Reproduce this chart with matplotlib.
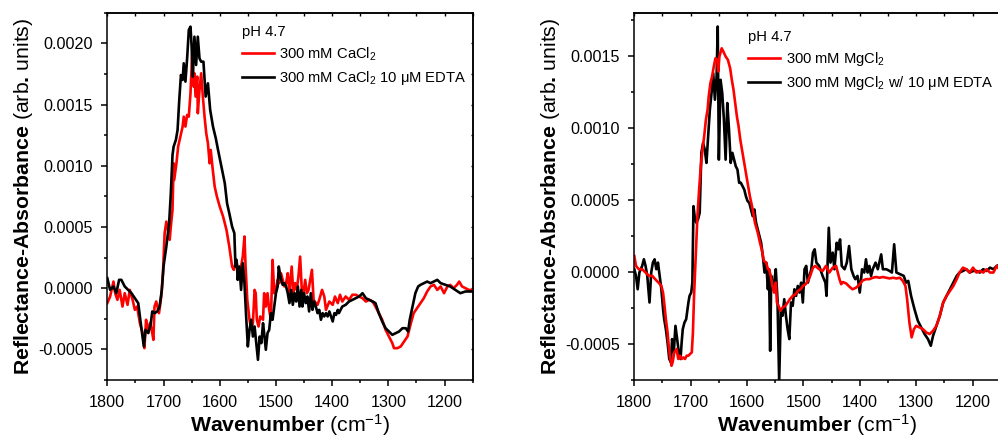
import matplotlib
matplotlib.use("Agg")
import numpy as np
import matplotlib.pyplot as plt
from matplotlib.ticker import MultipleLocator, FuncFormatter

plt.rcParams['font.family'] = ['Liberation Sans', 'DejaVu Sans']
plt.rcParams['mathtext.fontset'] = 'custom'
plt.rcParams['mathtext.rm'] = 'Liberation Sans'
plt.rcParams['mathtext.it'] = 'Liberation Sans:italic'
plt.rcParams['mathtext.bf'] = 'Liberation Sans:bold'
plt.rcParams['mathtext.default'] = 'regular'

# ---------------- spectra (wavenumber in cm^-1, absorbance in units of 1e-4) ----------------
# CaCl2, no EDTA
ca_wn = np.array([
    1800, 1795, 1789, 1786, 1782, 1778, 1773, 1769, 1764, 1760,
    1755, 1751, 1747, 1742, 1737, 1734, 1731, 1729, 1724, 1721,
    1718, 1716, 1713, 1708, 1704, 1701, 1698, 1695, 1692, 1689,
    1687, 1684, 1682, 1681, 1677, 1674, 1670, 1666, 1664, 1661,
    1658, 1655, 1652, 1651, 1649, 1646, 1645, 1643, 1640, 1639,
    1636, 1633, 1630, 1627, 1624, 1621, 1618, 1616, 1613, 1609,
    1605, 1600, 1594, 1588, 1583, 1578, 1575, 1572, 1570, 1566,
    1563, 1559, 1556, 1554, 1551, 1547, 1544, 1541, 1538, 1536,
    1534, 1531, 1528, 1523, 1521, 1518, 1515, 1512, 1509, 1506,
    1503, 1500, 1497, 1494, 1491, 1488, 1485, 1482, 1479, 1476,
    1472, 1469, 1466, 1463, 1460, 1457, 1454, 1451, 1448, 1445,
    1442, 1439, 1436, 1433, 1429, 1426, 1423, 1418, 1414, 1411,
    1405, 1399, 1395, 1390, 1386, 1382, 1376, 1370, 1364, 1358,
    1352, 1346, 1340, 1334, 1328, 1323, 1317, 1311, 1305, 1299,
    1293, 1290, 1284, 1278, 1272, 1266, 1260, 1255, 1249, 1243,
    1237, 1231, 1225, 1219, 1213, 1207, 1201, 1195, 1190, 1184,
    1178, 1174, 1169, 1163, 1157, 1150])
ca_abs = np.array([
    -1.22, -0.68, 0.54, -0.41, -0.95, -0.14, -1.50, -0.41, -1.36, -0.14,
    -0.95, -1.77, -1.50, -2.86, -3.67, -4.90, -2.58, -3.40, -2.86, -3.40,
    -4.22, -1.50, -1.09, -2.04, -0.68, 1.22, 4.49, 5.44, 4.76, 3.95,
    5.03, 6.39, 10.20, 8.84, 10.20, 11.56, 12.38, 13.20, 14.01, 13.20,
    14.15, 14.01, 15.92, 17.01, 19.18, 16.46, 17.55, 15.65, 17.28, 14.29,
    16.19, 17.55, 15.65, 14.01, 12.65, 11.84, 10.20, 11.29, 9.93, 8.30,
    7.48, 6.67, 5.85, 4.76, 3.40, 1.77, 1.50, 2.04, 2.18, 0.95,
    1.50, 2.58, 4.22, 1.77, -0.95, -2.58, -3.40, -2.86, -0.14, -0.41,
    -2.58, -3.13, -2.31, -2.58, -0.41, -1.50, -0.41, -1.77, -2.58, 2.31,
    -0.41, -0.14, 0.68, 0.41, 1.22, 0.68, 0.14, 0.41, 1.22, -0.41,
    1.77, -0.41, 0.41, -0.14, 0.95, 2.58, -0.14, -0.41, 0.68, -0.41,
    -0.14, 0.68, 1.50, -0.95, -1.22, -1.36, -0.95, -0.14, -0.68, -1.77,
    -1.09, -1.36, -0.68, -1.22, -0.54, -1.09, -0.68, -0.95, -0.54, -0.54,
    -0.68, -0.82, -1.09, -0.95, -1.09, -1.50, -2.04, -2.58, -3.40, -3.95,
    -4.49, -4.90, -4.90, -4.76, -4.35, -3.95, -2.86, -2.04, -1.63, -1.22,
    -0.82, -0.27, 0.14, 0.27, -0.14, 0.14, -0.41, 0.14, 0.27, 0.00,
    0.27, 0.54, 0.14, 0.00, -0.14, -0.14])

# CaCl2 with 10 uM EDTA
ca_edta_wn = np.array([
    1800, 1795, 1789, 1784, 1779, 1775, 1769, 1763, 1757, 1751,
    1745, 1739, 1735, 1732, 1727, 1723, 1720, 1716, 1711, 1707,
    1703, 1700, 1695, 1690, 1687, 1684, 1682, 1678, 1675, 1672,
    1669, 1666, 1664, 1661, 1658, 1655, 1652, 1650, 1648, 1645,
    1642, 1639, 1636, 1633, 1629, 1625, 1621, 1617, 1612, 1607,
    1603, 1597, 1591, 1587, 1583, 1578, 1574, 1572, 1570, 1568,
    1565, 1562, 1559, 1556, 1553, 1550, 1547, 1544, 1541, 1538,
    1535, 1532, 1529, 1526, 1523, 1521, 1518, 1515, 1512, 1509,
    1506, 1503, 1500, 1497, 1495, 1492, 1488, 1485, 1482, 1479,
    1476, 1473, 1470, 1467, 1464, 1461, 1458, 1455, 1453, 1450,
    1447, 1444, 1441, 1438, 1435, 1432, 1429, 1426, 1423, 1420,
    1417, 1414, 1411, 1408, 1405, 1402, 1399, 1396, 1393, 1390,
    1388, 1382, 1376, 1370, 1364, 1358, 1352, 1346, 1340, 1334,
    1328, 1323, 1317, 1311, 1305, 1299, 1293, 1287, 1281, 1275,
    1269, 1265, 1262, 1257, 1252, 1247, 1243, 1237, 1231, 1225,
    1219, 1213, 1207, 1198, 1190, 1181, 1172, 1163, 1150])
ca_edta_abs = np.array([
    0.82, -0.14, 0.14, -0.41, 0.68, 0.68, 0.14, -0.14, -0.41, -0.82,
    -1.22, -3.40, -4.76, -3.40, -3.67, -2.99, -1.90, -2.04, -1.90, -1.50,
    -0.14, 1.77, 3.40, 5.31, 7.75, 10.88, 11.56, 12.11, 12.92, 15.37,
    17.41, 17.01, 18.37, 16.87, 18.77, 21.09, 21.36, 19.73, 17.28, 20.54,
    18.23, 20.54, 18.77, 18.50, 18.50, 15.65, 16.73, 14.56, 13.20, 12.24,
    11.29, 9.93, 8.57, 6.94, 6.12, 5.03, 4.49, 1.77, 2.31, 0.68,
    1.77, -0.14, 2.04, 0.41, -2.31, -4.76, -3.40, -2.58, -3.95, -3.13,
    -4.49, -5.85, -3.95, -4.49, -2.86, -3.67, -5.03, -3.67, -3.40, -2.04,
    -2.58, -1.50, -0.41, 0.14, 1.77, 0.95, 0.27, 0.41, 0.14, -0.41,
    -1.22, -0.14, -1.36, -0.41, -1.09, 0.14, -1.50, -0.14, -1.50, -0.41,
    -1.22, -0.68, -1.90, -0.41, -1.77, -1.09, -1.50, -2.04, -1.77, -2.58,
    -2.04, -2.31, -2.04, -2.31, -1.90, -2.31, -2.72, -2.04, -2.18, -1.77,
    -2.04, -1.50, -1.36, -1.09, -0.95, -0.82, -0.68, -0.41, -0.82, -0.95,
    -1.09, -1.22, -2.04, -2.72, -3.27, -3.54, -3.81, -3.67, -3.54, -3.27,
    -3.27, -3.54, -2.58, -1.50, -0.41, 0.14, 0.27, 0.41, 0.54, 0.41,
    0.54, 0.68, 0.41, 0.27, 0.14, -0.14, -0.41, -0.27, -0.27])

# MgCl2, no EDTA
mg_wn = np.array([
    1800, 1797, 1792, 1786, 1780, 1774, 1768, 1763, 1757, 1752,
    1749, 1747, 1744, 1741, 1739, 1737, 1734, 1732, 1729, 1725,
    1722, 1719, 1716, 1713, 1710, 1707, 1704, 1701, 1698, 1696,
    1694, 1691, 1688, 1685, 1682, 1679, 1676, 1673, 1670, 1668,
    1665, 1662, 1659, 1656, 1653, 1651, 1649, 1645, 1642, 1638,
    1634, 1630, 1627, 1624, 1621, 1618, 1615, 1612, 1608, 1603,
    1599, 1595, 1590, 1586, 1581, 1577, 1574, 1570, 1566, 1563,
    1561, 1558, 1555, 1552, 1549, 1547, 1544, 1541, 1537, 1532,
    1528, 1524, 1519, 1514, 1510, 1505, 1501, 1496, 1492, 1488,
    1483, 1479, 1472, 1466, 1460, 1454, 1448, 1442, 1436, 1433,
    1430, 1424, 1419, 1413, 1407, 1401, 1395, 1389, 1383, 1377,
    1371, 1365, 1359, 1353, 1347, 1341, 1335, 1329, 1324, 1319,
    1316, 1312, 1308, 1304, 1300, 1294, 1288, 1282, 1276, 1270,
    1264, 1258, 1252, 1246, 1240, 1234, 1228, 1223, 1217, 1211,
    1205, 1199, 1193, 1187, 1181, 1175, 1169, 1163, 1157, 1150])
mg_abs = np.array([
    1.11, 0.42, 0.19, 0.19, -0.04, -0.27, -0.27, -0.50, -0.74, -0.97,
    -1.43, -2.12, -3.28, -4.20, -5.12, -5.81, -6.51, -6.27, -5.58, -5.35,
    -6.04, -5.81, -6.04, -5.93, -6.04, -5.81, -5.81, -5.70, -5.58, -4.20,
    -1.66, 1.11, 3.88, 5.73, 7.34, 8.50, 9.42, 10.57, 11.26, 12.19,
    13.11, 13.57, 14.26, 14.84, 14.73, 13.92, 14.96, 15.53, 15.30, 14.96,
    14.73, 14.15, 13.34, 12.65, 11.73, 10.80, 10.11, 9.19, 8.27, 7.11,
    6.19, 5.26, 4.34, 3.42, 2.73, 2.03, 1.57, 0.76, 0.65, 0.19,
    0.19, -0.27, -0.97, -1.43, -0.74, -2.12, -2.35, -2.70, -2.47, -2.35,
    -2.12, -1.89, -1.66, -1.55, -1.32, -1.20, -0.97, -0.85, -0.62, -0.27,
    0.30, 0.42, 0.19, 0.07, 0.42, -0.04, 0.30, 0.42, -0.50, -0.85,
    -0.70, -0.80, -1.00, -1.20, -1.10, -0.90, -0.60, -0.50, -0.50, -0.40,
    -0.35, -0.40, -0.35, -0.40, -0.45, -0.40, -0.45, -0.40, -0.60, -0.97,
    -1.89, -3.50, -4.54, -3.97, -3.74, -3.85, -3.97, -4.20, -4.31, -4.08,
    -3.74, -3.04, -2.12, -1.66, -1.31, -0.97, -0.50, -0.04, 0.30, 0.19,
    -0.04, 0.30, -0.04, 0.07, -0.04, 0.19, -0.04, -0.04, 0.42, 0.07])

# MgCl2 with 10 uM EDTA
mg_edta_wn = np.array([
    1800, 1797, 1794, 1791, 1786, 1783, 1780, 1777, 1773, 1770,
    1767, 1764, 1761, 1758, 1755, 1752, 1749, 1747, 1744, 1741,
    1738, 1735, 1733, 1730, 1727, 1724, 1721, 1718, 1716, 1714,
    1711, 1708, 1704, 1702, 1699, 1697, 1695, 1693, 1690, 1687,
    1684, 1681, 1678, 1675, 1672, 1669, 1666, 1663, 1660, 1657,
    1654, 1652, 1650, 1647, 1644, 1641, 1638, 1635, 1632, 1629,
    1626, 1623, 1620, 1617, 1614, 1611, 1608, 1605, 1602, 1599,
    1596, 1593, 1590, 1587, 1584, 1581, 1578, 1575, 1572, 1569,
    1566, 1563, 1561, 1559, 1557, 1555, 1552, 1549, 1546, 1543,
    1540, 1537, 1534, 1531, 1528, 1525, 1522, 1519, 1516, 1513,
    1510, 1507, 1504, 1501, 1498, 1495, 1492, 1489, 1486, 1483,
    1480, 1477, 1472, 1466, 1461, 1459, 1455, 1452, 1448, 1445,
    1441, 1438, 1435, 1432, 1427, 1423, 1419, 1415, 1411, 1408,
    1404, 1400, 1396, 1392, 1389, 1386, 1383, 1380, 1377, 1372,
    1368, 1362, 1359, 1353, 1347, 1343, 1339, 1335, 1329, 1322,
    1318, 1314, 1309, 1303, 1297, 1291, 1285, 1279, 1274, 1270,
    1264, 1258, 1252, 1246, 1240, 1234, 1228, 1223, 1217, 1211,
    1205, 1199, 1193, 1187, 1181, 1175, 1169, 1163, 1157, 1150])
mg_edta_abs = np.array([
    0.19, -0.27, -1.20, -0.04, 0.42, 0.88, 0.42, -0.27, -2.12, -0.04,
    0.65, 0.88, 0.19, 0.65, -0.27, -1.20, -2.58, -3.27, -3.97, -4.89,
    -6.04, -6.27, -4.66, -5.58, -3.74, -4.66, -5.58, -6.04, -4.89, -3.97,
    -3.51, -3.28, -2.12, -1.66, -1.43, -0.73, 4.57, 3.88, 3.42, 3.65,
    4.11, 8.27, 8.96, 8.50, 7.57, 9.42, 11.26, 12.42, 13.80, 11.96,
    13.57, 17.04, 7.80, 13.34, 12.42, 10.57, 7.80, 11.73, 9.88, 7.57,
    8.27, 7.80, 7.34, 7.11, 6.19, 6.19, 5.96, 5.73, 5.26, 4.92,
    4.80, 4.34, 3.88, 4.34, 3.42, 2.96, 2.50, 2.03, 1.11, -0.04,
    0.65, -1.20, 0.19, -5.47, -0.27, -1.20, -0.74, 0.19, -1.89, -7.60,
    -2.58, -3.04, -1.89, -3.04, -3.97, -4.66, -2.12, -2.35, -1.20, -1.66,
    -0.97, -1.43, -0.74, -2.12, 0.19, 0.42, -0.74, -0.27, 0.19, 1.34,
    1.57, 0.65, 0.42, -0.27, -0.74, -1.66, 3.07, 0.65, 1.34, 0.19,
    2.03, 1.57, 2.26, 0.42, 0.19, 0.65, 1.80, 0.19, -0.27, -0.50,
    -0.27, -1.43, 0.19, -0.04, 0.88, -0.04, 0.42, -0.27, 0.19, 0.65,
    0.19, 1.22, 0.19, 0.19, 0.07, -0.04, 1.92, -0.04, -0.15, -0.27,
    -0.74, -0.62, -1.66, -2.58, -3.39, -3.85, -4.31, -4.66, -5.12, -4.43,
    -3.74, -3.04, -2.12, -1.66, -1.20, -0.74, -0.27, -0.04, 0.07, 0.19,
    -0.04, 0.07, 0.07, -0.04, 0.19, 0.07, 0.30, 0.19, 0.42, 0.53])

ABS_UNIT = 1e-4

legend_title = "pH 4.7"
ca_labels = ["300 mM CaCl$_2$", "300 mM CaCl$_2$ 10 \u03bcM EDTA"]
mg_labels = ["300 mM MgCl$_2$", "300 mM MgCl$_2$ w/ 10 \u03bcM EDTA"]
x_label = r"Wavenumber $\mathrm{(cm^{-1})}$"
y_label = r"Reflectance-Absorbance $\mathrm{(arb}$. $\mathrm{units)}$"

RED = "#ff0000"
BLACK = "#000000"
LW = 1.9

W, H = 998, 438
fig = plt.figure(figsize=(W / 100, H / 100), dpi=100)
ax1 = fig.add_axes([107.3 / W, 58 / H, 365.4 / W, 367.3 / H])
ax2 = fig.add_axes([634.3 / W, 58 / H, 366.4 / W, 367.3 / H])


def fmt(v, _pos):
    v = round(v, 6)
    if v == 0:
        v = 0.0
    return f"{v:.4f}"


def style(ax, ylim):
    ax.set_xlim(1800, 1150)
    ax.set_ylim(*ylim)
    ax.xaxis.set_major_locator(MultipleLocator(100))
    ax.xaxis.set_minor_locator(MultipleLocator(50))
    ax.yaxis.set_major_locator(MultipleLocator(0.0005))
    ax.yaxis.set_minor_locator(MultipleLocator(0.00025))
    ax.yaxis.set_major_formatter(FuncFormatter(fmt))
    ax.tick_params(which='major', direction='out', length=4.5, width=1.1,
                   labelsize=11.6, pad=6, colors='black')
    ax.tick_params(which='minor', direction='out', length=2.4, width=1.1)
    for s in ax.spines.values():
        s.set_linewidth(1.1)
    # short inward mirror ticks on the top and right frame
    top = ax.secondary_xaxis('top')
    top.xaxis.set_major_locator(MultipleLocator(100))
    top.xaxis.set_minor_locator(MultipleLocator(50))
    top.tick_params(which='both', direction='in', length=1.8, width=1.0,
                    labeltop=False)
    top.spines['top'].set_linewidth(1.1)
    right = ax.secondary_yaxis('right')
    right.yaxis.set_major_locator(MultipleLocator(0.0005))
    right.yaxis.set_minor_locator(MultipleLocator(0.00025))
    right.tick_params(which='both', direction='in', length=1.8, width=1.0,
                      labelright=False)
    right.spines['right'].set_linewidth(1.1)
    ax.set_xlabel(x_label, fontsize=15.3, fontweight='bold', labelpad=2)
    ax.set_ylabel(y_label, fontsize=15.3, fontweight='bold', labelpad=2)


# left panel: calcium
r1, = ax1.plot(ca_wn, ca_abs * ABS_UNIT, color=RED, lw=LW)
k1, = ax1.plot(ca_edta_wn, ca_edta_abs * ABS_UNIT, color=BLACK, lw=LW)
style(ax1, (-0.00075, 0.00225))
ax1.legend([r1, k1], ca_labels, title=legend_title, title_fontsize=10.6,
           alignment='left', loc='upper left', bbox_to_anchor=(0.368, 0.966),
           frameon=False, fontsize=10.6, borderpad=0, borderaxespad=0,
           handlelength=2.2, handletextpad=0.35, labelspacing=0.42)

# right panel: magnesium
k2, = ax2.plot(mg_edta_wn, mg_edta_abs * ABS_UNIT, color=BLACK, lw=LW)
r2, = ax2.plot(mg_wn, mg_abs * ABS_UNIT, color=RED, lw=LW)
style(ax2, (-0.00075, 0.0018))
ax2.legend([r2, k2], mg_labels, title=legend_title, title_fontsize=10.6,
           alignment='left', loc='upper left', bbox_to_anchor=(0.3105, 0.953),
           frameon=False, fontsize=10.6, borderpad=0, borderaxespad=0,
           handlelength=2.2, handletextpad=0.35, labelspacing=0.42)

fig.savefig("out.png", dpi=100)
